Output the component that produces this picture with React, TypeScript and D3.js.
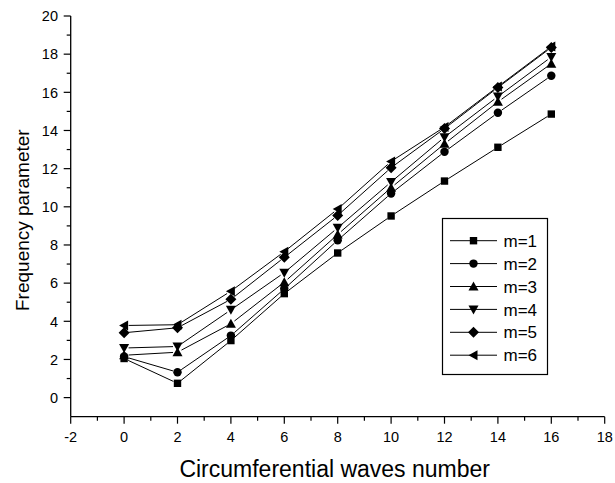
import React from "react";
import * as d3 from "d3";

const xValues = [0, 2, 4, 6, 8, 10, 12, 14, 16];
const m1 = [2.05, 0.75, 2.99, 5.45, 7.58, 9.52, 11.35, 13.12, 14.86];
const m2 = [2.15, 1.33, 3.25, 5.7, 8.25, 10.7, 12.88, 14.93, 16.87];
const m3 = [2.22, 2.38, 3.87, 6.05, 8.55, 11.0, 13.3, 15.5, 17.5];
const m4 = [2.6, 2.68, 4.6, 6.55, 8.9, 11.3, 13.65, 15.78, 17.85];
const m5 = [3.4, 3.66, 5.15, 7.35, 9.55, 12.05, 14.1, 16.25, 18.35];
const m6 = [3.78, 3.82, 5.58, 7.65, 9.88, 12.38, 14.18, 16.3, 18.4];
const seriesNames = ["m=1", "m=2", "m=3", "m=4", "m=5", "m=6"];
const seriesValues = [m1, m2, m3, m4, m5, m6];
const markerKinds = ["square", "circle", "up", "down", "diamond", "left"];
const xTicks = [-2, 0, 2, 4, 6, 8, 10, 12, 14, 16, 18];
const yTicks = [0, 2, 4, 6, 8, 10, 12, 14, 16, 18, 20];
const xTitle = "Circumferential waves number";
const yTitle = "Frequency parameter";

const FONT = "'Liberation Sans', Arial, sans-serif";

function markerPath(kind: string): string {
  switch (kind) {
    case "square":
      return "M-3.7,-3.7H3.7V3.7H-3.7Z";
    case "circle":
      return d3.symbol(d3.symbolCircle, 56)() as string;
    case "up":
      return "M0,-5L5,4L-5,4Z";
    case "down":
      return "M0,5L5,-4L-5,-4Z";
    case "diamond":
      return "M0,-5.5L5.5,0L0,5.5L-5.5,0Z";
    case "left":
      return "M-5,0L4,-5L4,5Z";
  }
  return "";
}

export default function App() {
  const W = 615;
  const H = 483;
  const x = d3.scaleLinear().domain([-2, 18]).range([70.7, 604.7]);
  const y = d3.scaleLinear().domain([-1, 20]).range([416.7, 16]);
  const gap = 4.5;

  const xMinor = d3.range(-1, 18, 2);
  const yMinor = d3.range(1, 20, 2);

  const legendX = 442.5;
  const legendY = 218.5;
  const legendW = 105;
  const legendH = 156;
  const rowY0 = 240.7;
  const rowStep = 22.9;

  return (
    <svg
      width={W}
      height={H}
      style={{ position: "absolute", left: 0, top: 0, background: "#fff" }}
      fontFamily={FONT}
    >
      <rect x={0} y={0} width={W} height={H} fill="#fff" />
      {/* axes */}
      <line x1={x(-2)} x2={x(18)} y1={y(-1)} y2={y(-1)} stroke="#000" strokeWidth={1.3} />
      <line x1={x(-2)} x2={x(-2)} y1={y(-1)} y2={y(20)} stroke="#000" strokeWidth={1.3} />
      {xTicks.map((t) => (
        <g key={"xt" + t}>
          <line x1={x(t)} x2={x(t)} y1={y(-1)} y2={y(-1) + 7} stroke="#000" strokeWidth={1.2} />
          <text x={x(t)} y={442} textAnchor="middle" fontSize={14.5} fill="#000">
            {t}
          </text>
        </g>
      ))}
      {xMinor.map((t) => (
        <line key={"xm" + t} x1={x(t)} x2={x(t)} y1={y(-1)} y2={y(-1) + 4} stroke="#000" strokeWidth={1.2} />
      ))}
      {yTicks.map((t) => (
        <g key={"yt" + t}>
          <line x1={x(-2) - 7} x2={x(-2)} y1={y(t)} y2={y(t)} stroke="#000" strokeWidth={1.2} />
          <text x={58} y={y(t)} dy="0.36em" textAnchor="end" fontSize={14.5} fill="#000">
            {t}
          </text>
        </g>
      ))}
      {yMinor.map((t) => (
        <line key={"ym" + t} x1={x(-2) - 4} x2={x(-2)} y1={y(t)} y2={y(t)} stroke="#000" strokeWidth={1.2} />
      ))}
      {/* titles */}
      <text x={x(8) - 3} y={477} textAnchor="middle" fontSize={23} fill="#000">
        {xTitle}
      </text>
      <text
        transform={`translate(29,${y(9.3)}) rotate(-90)`}
        textAnchor="middle"
        fontSize={19}
        fill="#000"
      >
        {yTitle}
      </text>
      {/* series lines with gaps around symbols */}
      {seriesValues.map((vals, si) => (
        <g key={"s" + si}>
          {vals.slice(1).map((v, i) => {
            const x1 = x(xValues[i]);
            const y1 = y(vals[i]);
            const x2 = x(xValues[i + 1]);
            const y2 = y(v);
            const dx = x2 - x1;
            const dy = y2 - y1;
            const len = Math.hypot(dx, dy);
            const ux = dx / len;
            const uy = dy / len;
            return (
              <line
                key={i}
                x1={x1 + ux * gap}
                y1={y1 + uy * gap}
                x2={x2 - ux * gap}
                y2={y2 - uy * gap}
                stroke="#000"
                strokeWidth={1}
              />
            );
          })}
        </g>
      ))}
      {/* markers */}
      {seriesValues.map((vals, si) => (
        <g key={"mk" + si}>
          {vals.map((v, i) => (
            <path key={i} d={markerPath(markerKinds[si])} transform={`translate(${x(xValues[i])},${y(v)})`} fill="#000" />
          ))}
        </g>
      ))}
      {/* legend */}
      <rect x={legendX} y={legendY} width={legendW} height={legendH} fill="#fff" stroke="#000" strokeWidth={1.2} />
      {seriesNames.map((name, i) => {
        const ry = rowY0 + rowStep * i;
        return (
          <g key={"lg" + i}>
            <line x1={450} x2={497} y1={ry} y2={ry} stroke="#000" strokeWidth={1} />
            <path d={markerPath(markerKinds[i])} transform={`translate(473.5,${ry})`} fill="#000" />
            <text x={503.5} y={ry} dy="0.36em" fontSize={17} fill="#000">
              {name}
            </text>
          </g>
        );
      })}
    </svg>
  );
}
